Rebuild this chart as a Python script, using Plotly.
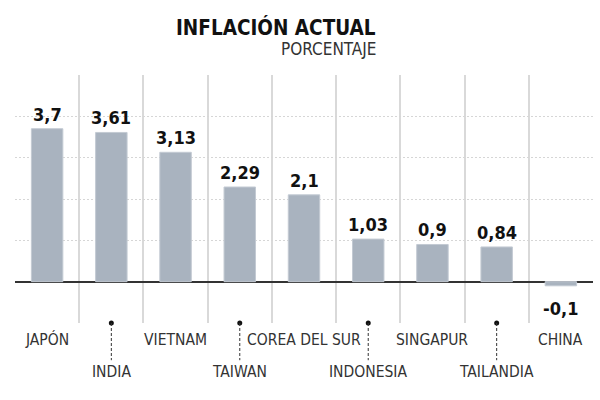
import plotly.graph_objects as go

paises = ["JAPÓN", "INDIA", "VIETNAM", "TAIWAN", "COREA DEL SUR",
          "INDONESIA", "SINGAPUR", "TAILANDIA", "CHINA"]
inflacion = [3.7, 3.61, 3.13, 2.29, 2.1, 1.03, 0.9, 0.84, -0.1]
etiquetas = [f"{v:g}".replace(".", ",") for v in inflacion]
titulo = "INFLACIÓN ACTUAL"
subtitulo = "PORCENTAJE"
y_min, y_max = -1, 5

NARROW = "Liberation Sans Narrow, Arial Narrow, DejaVu Sans Condensed, sans-serif"

fig = go.Figure()
fig.add_bar(x=paises, y=inflacion,
            marker=dict(color="#a9b3bf", line=dict(color="#c3cad3", width=1)),
            hoverinfo="skip")

segunda_fila = paises[1::2]
fig.add_scatter(x=segunda_fila, y=[y_min] * len(segunda_fila), mode="markers",
                marker=dict(color="#111111", size=5), cliponaxis=False,
                hoverinfo="skip")

for i, (p, v, t) in enumerate(zip(paises, inflacion, etiquetas)):
    fig.add_annotation(x=p, y=v, xref="x", yref="y", text=t, showarrow=False,
                       yanchor="bottom" if v >= 0 else "top",
                       yshift=2 if v >= 0 else -10,
                       font=dict(family=NARROW, size=18, color="#111111", weight="bold"))
    row2 = i % 2 == 1
    fig.add_annotation(x=p, y=-0.197 if row2 else -0.068, xref="x", yref="paper",
                       text=p, showarrow=False, yanchor="middle",
                       font=dict(family=NARROW, size=15.5, color="#333333"))
    if row2:
        fig.add_shape(type="line", xref="x", yref="paper", x0=p, x1=p,
                      y0=0, y1=-0.15,
                      line=dict(color="#333333", width=1, dash="3px,2px"))

fig.add_annotation(x=0.628, y=1.19, xref="paper", yref="paper", text=titulo,
                   showarrow=False, xanchor="right", yanchor="middle",
                   font=dict(family=NARROW, size=20.5, color="#111111", weight="bold"))
fig.add_annotation(x=0.628, y=1.105, xref="paper", yref="paper", text=subtitulo,
                   showarrow=False, xanchor="right", yanchor="middle",
                   font=dict(family=NARROW, size=17, color="#333333"))

fig.update_layout(
    width=600, height=400,
    margin=dict(l=15, r=7, t=75, b=77),
    paper_bgcolor="white", plot_bgcolor="white",
    showlegend=False, bargap=0.51,
    xaxis=dict(range=[-0.5, 8.5], tickson="boundaries", showgrid=True,
               gridcolor="#d9d9d9", gridwidth=1.5, showticklabels=False,
               ticks="", zeroline=False, showline=False, fixedrange=True),
    yaxis=dict(range=[y_min, y_max], dtick=1, showgrid=True, gridcolor="#d6d6d6",
               gridwidth=1, griddash="2px,2px", showticklabels=False, ticks="",
               zeroline=True, zerolinecolor="#333333", zerolinewidth=1.5,
               showline=False, fixedrange=True),
)

fig.write_html("out.html")
